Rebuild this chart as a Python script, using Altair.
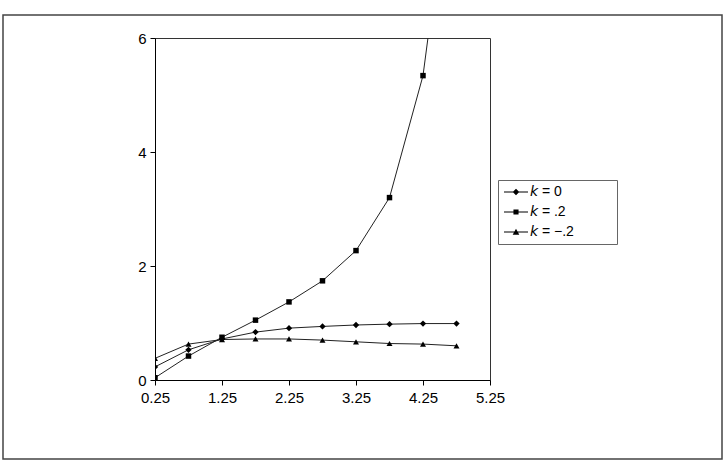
import altair as alt
import pandas as pd

x_vals = [0.25, 0.75, 1.25, 1.75, 2.25, 2.75, 3.25, 3.75, 4.25, 4.75]
k_zero = [0.23, 0.53, 0.72, 0.84, 0.91, 0.94, 0.965, 0.98, 0.99, 0.99]
k_pos = [0.04, 0.42, 0.75, 1.05, 1.37, 1.74, 2.27, 3.20, 5.34, 9.8]
k_neg = [0.38, 0.63, 0.71, 0.72, 0.72, 0.70, 0.67, 0.64, 0.63, 0.60]
series_labels = ["\U0001D62C = 0", "\U0001D62C = .2", "\U0001D62C = \u2212.2"]
marker_shapes = ["diamond", "square", "triangle-up"]
marker_sizes = [40, 30, 36]
x_ticks = [0.25, 1.25, 2.25, 3.25, 4.25, 5.25]
y_ticks = [0, 2, 4, 6]

BAR = "M-4,-0.17L4,-0.17L4,0.17L-4,0.17Z"
legend_paths = [
    BAR + "M0,-1.1L1.1,0L0,1.1L-1.1,0Z",
    BAR + "M-0.85,-0.85L0.85,-0.85L0.85,0.85L-0.85,0.85Z",
    BAR + "M0,-1.1L1.1,0.9L-1.1,0.9Z",
]

rows = []
for lab, vals in zip(series_labels, [k_zero, k_pos, k_neg]):
    for xv, yv in zip(x_vals, vals):
        rows.append({"x": xv, "y": yv, "k": lab})
df = pd.DataFrame(rows)

FONT = "Liberation Sans"

X = alt.X(
    "x:Q",
    scale=alt.Scale(domain=[0.25, 5.25], nice=False, zero=False),
    axis=alt.Axis(values=x_ticks, format=".2f", title=None, grid=False,
                  tickSize=5, labelPadding=5, domainColor="black",
                  tickColor="black", labelColor="black", labelFontSize=15,
                  labelFont=FONT, labelFlush=False),
)
Y = alt.Y(
    "y:Q",
    scale=alt.Scale(domain=[0, 6], nice=False),
    axis=alt.Axis(values=y_ticks, title=None, grid=False, tickSize=5,
                  labelPadding=4, domainColor="black", tickColor="black",
                  labelColor="black", labelFontSize=15, labelFont=FONT),
)

frame = alt.Chart(pd.DataFrame({"a": [0]})).mark_rect(
    fill="white", fillOpacity=0, stroke="#444", strokeWidth=1.5
).encode(
    x=alt.value(-152), x2=alt.value(567), y=alt.value(-23), y2=alt.value(421)
)

lines = alt.Chart(df).mark_line(color="#222", strokeWidth=1, clip=True).encode(
    x=X, y=Y, detail="k:N"
)

point_layers = []
for lab, shp, sz in zip(series_labels, marker_shapes, marker_sizes):
    point_layers.append(
        alt.Chart(df).transform_filter(alt.datum.k == lab)
        .mark_point(shape=shp, filled=True, color="black", size=sz,
                    opacity=1, clip=True)
        .encode(x=X, y=Y)
    )

legend_layer = alt.Chart(df).transform_filter("false").mark_point(
    filled=True, color="black", size=36, opacity=1
).encode(
    x=X, y=Y,
    shape=alt.Shape(
        "k:N",
        scale=alt.Scale(domain=series_labels, range=legend_paths),
        legend=alt.Legend(
            orient="none", legendX=343, legendY=142,
            title="MMM", titleOrient="right", titleOpacity=0,
            titleFontSize=14, titlePadding=3,
            padding=5, strokeColor="#666", fillColor="white",
            symbolSize=36, symbolOffset=6, labelOffset=7, rowPadding=6,
            symbolFillColor="black", symbolOpacity=1,
            labelFont=FONT, labelFontSize=14, labelColor="black",
            labelLimit=300,
        ),
    ),
)

chart = alt.layer(frame, lines, *point_layers, legend_layer).properties(
    width=335, height=342,
    padding={"left": 155, "top": 38, "right": 234, "bottom": 86},
    autosize=alt.AutoSizeParams(type="none"),
    background="white",
).configure_view(stroke="#333", strokeWidth=1)

chart.save("out.html", embed_options={"renderer": "svg", "actions": False})
